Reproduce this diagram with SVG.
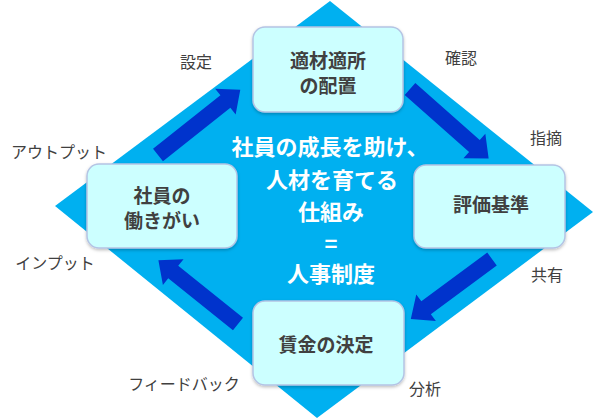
<svg xmlns="http://www.w3.org/2000/svg" width="593" height="419" viewBox="0 0 593 419">
<defs>
<style>
.bg{fill:#00B0F0}
.box{fill:#CCFFFF;stroke:#B4C4E4;stroke-width:1.5}
.bt{font-family:"Noto Sans CJK JP","Noto Sans",sans-serif;font-weight:bold;font-size:19px;fill:#404040;text-anchor:middle;dominant-baseline:central}
.ct{font-family:"Noto Sans CJK JP","Noto Sans",sans-serif;font-weight:bold;font-size:22px;fill:#FFFFFF;text-anchor:middle;dominant-baseline:central}
.lb{font-family:"Noto Sans CJK JP","Noto Sans",sans-serif;font-size:16px;fill:#404040;text-anchor:middle;dominant-baseline:central}
.arr{fill:#0033CC}
</style>
<filter id="sh" x="-10%" y="-10%" width="120%" height="130%">
<feDropShadow dx="0" dy="1.5" stdDeviation="1.5" flood-color="#000" flood-opacity="0.25"/>
</filter>
</defs>
<polygon class="bg" points="330,1 593,212 317,418 55,206"/>
<g id="connectors">
<path class="arr" transform="translate(158,155) rotate(-38.4)" d="M0,-8 H86 V-16.5 L105,0 L86,16.5 V8 H0 Z"/>
<path class="arr" transform="translate(410,89) rotate(41.5)" d="M0,-8 H86 V-16.5 L105,0 L86,16.5 V8 H0 Z"/>
<path class="arr" transform="translate(492,259) rotate(143.5)" d="M0,-8 H82 V-16.5 L101,0 L82,16.5 V8 H0 Z"/>
<path class="arr" transform="translate(238,324) rotate(-141.3)" d="M0,-8 H83 V-16.5 L102,0 L83,16.5 V8 H0 Z"/>
</g>
<g id="node-top">
<rect class="box" filter="url(#sh)" x="253" y="27" width="150" height="85" rx="12"/>
<text class="bt" x="328" y="59">適材適所</text>
<text class="bt" x="328" y="84">の配置</text>
</g>
<g id="node-left">
<rect class="box" filter="url(#sh)" x="87" y="164" width="150" height="84" rx="12"/>
<text class="bt" x="162" y="194">社員の</text>
<text class="bt" x="162" y="219">働きがい</text>
</g>
<g id="node-right">
<rect class="box" filter="url(#sh)" x="414" y="165" width="151" height="83" rx="12"/>
<text class="bt" x="491" y="203">評価基準</text>
</g>
<g id="node-bottom">
<rect class="box" filter="url(#sh)" x="253" y="301" width="151" height="84" rx="12"/>
<text class="bt" x="326" y="343">賃金の決定</text>
</g>
<g id="center">
<text class="ct" x="330" y="145">社員の成長を助け、</text>
<text class="ct" x="332" y="178">人材を育てる</text>
<text class="ct" x="331" y="210">仕組み</text>
<text class="ct" x="331" y="242">=</text>
<text class="ct" x="331" y="272" font-size="26">人事制度</text>
</g>
<g id="labels">
<text class="lb" x="196" y="61">設定</text>
<text class="lb" x="461" y="57">確認</text>
<text class="lb" x="546" y="137">指摘</text>
<text class="lb" x="59" y="151">アウトプット</text>
<text class="lb" x="55" y="262">インプット</text>
<text class="lb" x="547" y="274">共有</text>
<text class="lb" x="184" y="383">フィードバック</text>
<text class="lb" x="425" y="388">分析</text>
</g>
</svg>
